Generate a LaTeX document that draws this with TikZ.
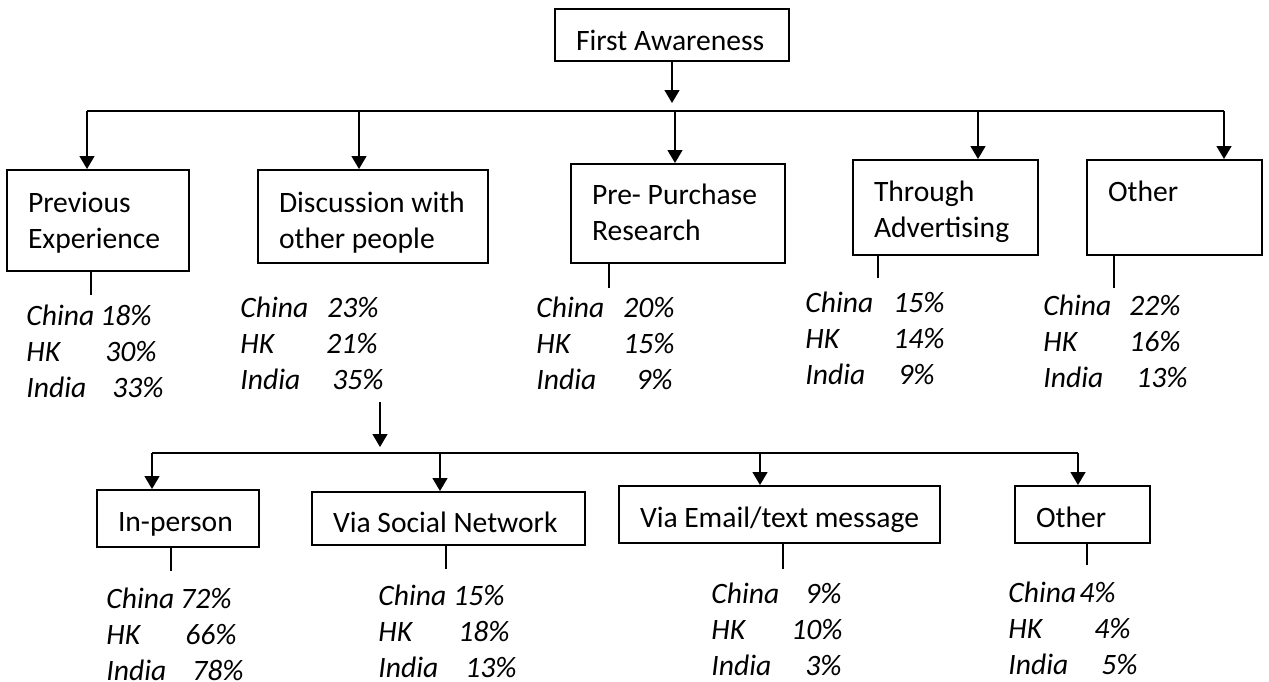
\documentclass[tikz,border=0pt]{standalone}
\usepackage{fontspec}
\setmainfont{Carlito}
\usetikzlibrary{arrows.meta}

% one line of a country table: label in a box of given width, then the share
\newcommand{\statline}[3]{\makebox[#2][l]{#1}#3}

\begin{document}
\begin{tikzpicture}[
  x=0.5pt,y=-0.5pt,
  >={Triangle[length=6.5pt,width=7.5pt]},
  font=\fontsize{14.8}{18}\selectfont,
  box/.style={draw,line width=1pt,rectangle,align=flush left,inner xsep=10.5pt,inner ysep=0pt},
  % move the text inside a box down (textdown) or up (textup)
  textdown/.style={text height=#1,text depth=0pt},
  textup/.style={text height=0pt,text depth=#1},
  stat/.style={anchor=base west,inner sep=0pt,text width=90pt,align=flush left,
    font=\fontsize{14.8}{18}\selectfont\itshape},
  link/.style={line width=0.7pt},
  stub/.style={line width=0.7pt}
]
  \useasboundingbox (0,0) rectangle (1269,681);

  % root
  \node[box,textdown=15pt,text width=96pt,minimum height=26pt] (fa) at (672,35) {First Awareness};

  % first level
  \node[box,textup=8.5pt,text width=70pt,minimum height=50.5pt] (prev) at (98,220.5) {Previous\\Experience};
  \node[box,textup=4.5pt,text width=94pt,minimum height=46.5pt] (disc) at (373,216.5) {Discussion with\\other people};
  \node[box,textup=9.5pt,text width=86pt,minimum height=49.5pt] (pre) at (678,213.5) {Pre- Purchase\\Research};
  \node[box,textup=6pt,text width=71.5pt,minimum height=47.5pt] (adv) at (945.5,207.5) {Through\\Advertising};
  \node[box,textup=6pt,text width=66.5pt,minimum height=47.5pt] (other) at (1174.5,207.5) {Other};

  % second level, under discussion
  \node[box,textdown=12.5pt,text width=60pt,minimum height=28.5pt] (inperson) at (178,518.5) {In-person};
  \node[box,textdown=13.5pt,text width=115.5pt,minimum height=26.5pt] (social) at (448.5,518.5) {Via Social Network};
  \node[box,textdown=12.5pt,text width=139.5pt,minimum height=28.5pt] (email) at (779.5,514.5) {Via Email/text message};
  \node[box,textdown=12.5pt,text width=46.5pt,minimum height=28.5pt] (othertwo) at (1082.5,514.5) {Other};

  % shares per country
  \node[stat] (prevdata) at (26,325)
    {\statline{China}{37pt}{18\%}\\\statline{HK}{39.5pt}{30\%}\\\statline{India}{43pt}{33\%}};
  \node[stat] (discdata) at (240,317)
    {\statline{China}{43.5pt}{23\%}\\\statline{HK}{43pt}{21\%}\\\statline{India}{46pt}{35\%}};
  \node[stat] (predata) at (536,317)
    {\statline{China}{43.5pt}{20\%}\\\statline{HK}{43.5pt}{15\%}\\\statline{India}{50pt}{9\%}};
  \node[stat] (advdata) at (805,312)
    {\statline{China}{44pt}{15\%}\\\statline{HK}{44pt}{14\%}\\\statline{India}{46.5pt}{9\%}};
  \node[stat] (otherdata) at (1043,315)
    {\statline{China}{43pt}{22\%}\\\statline{HK}{43pt}{16\%}\\\statline{India}{46.5pt}{13\%}};
  \node[stat] (inpersondata) at (106,608)
    {\statline{China}{37pt}{72\%}\\\statline{HK}{39.5pt}{66\%}\\\statline{India}{43pt}{78\%}};
  \node[stat] (socialdata) at (378,605)
    {\statline{China}{37.5pt}{15\%}\\\statline{HK}{40pt}{18\%}\\\statline{India}{43.5pt}{13\%}};
  \node[stat] (emaildata) at (711,603)
    {\statline{China}{47pt}{9\%}\\\statline{HK}{40pt}{10\%}\\\statline{India}{47pt}{3\%}};
  \node[stat] (othertwodata) at (1008,602)
    {\statline{China}{35.5pt}{4\%}\\\statline{HK}{43pt}{4\%}\\\statline{India}{46.5pt}{5\%}};

  % top bus
  \coordinate (fatip) at (672,103);
  \coordinate (t1) at (87,111);
  \coordinate (t2) at (359,111);
  \coordinate (t3) at (675,111);
  \coordinate (t4) at (978,111);
  \coordinate (t5) at (1224,111);
  \draw[link,->] (fa.south) -- (fatip);
  \draw[link] (t1) -- (t5);
  \foreach \c/\n in {t1/prev,t2/disc,t3/pre,t4/adv,t5/other}
    \draw[link,->] (\c) -- (\c |- \n.north);

  % lower bus
  \coordinate (d0) at (380,402);
  \coordinate (dtip) at (380,447);
  \coordinate (s1) at (152,453);
  \coordinate (s2) at (440,453);
  \coordinate (s3) at (760,453);
  \coordinate (s4) at (1078,453);
  \draw[link,->] (d0) -- (dtip);
  \draw[link] (s1) -- (s4);
  \foreach \c/\n in {s1/inperson,s2/social,s3/email,s4/othertwo}
    \draw[link,->] (\c) -- (\c |- \n.north);

  % short ticks under the boxes
  \draw[stub] ([xshift=-3.5pt]prev.south) -- ++(0,23);
  \draw[stub] ([xshift=-34.5pt]pre.south) -- ++(0,24);
  \draw[stub] ([xshift=-33.75pt]adv.south) -- ++(0,22);
  \draw[stub] ([xshift=-30.25pt]other.south) -- ++(0,32);
  \draw[stub] ([xshift=-3.5pt]inperson.south) -- ++(0,23);
  \draw[stub] ([xshift=-1.25pt]social.south) -- ++(0,23);
  \draw[stub] ([xshift=1.75pt]email.south) -- ++(0,25);
  \draw[stub] ([xshift=2.25pt]othertwo.south) -- ++(0,21);
\end{tikzpicture}
\end{document}
